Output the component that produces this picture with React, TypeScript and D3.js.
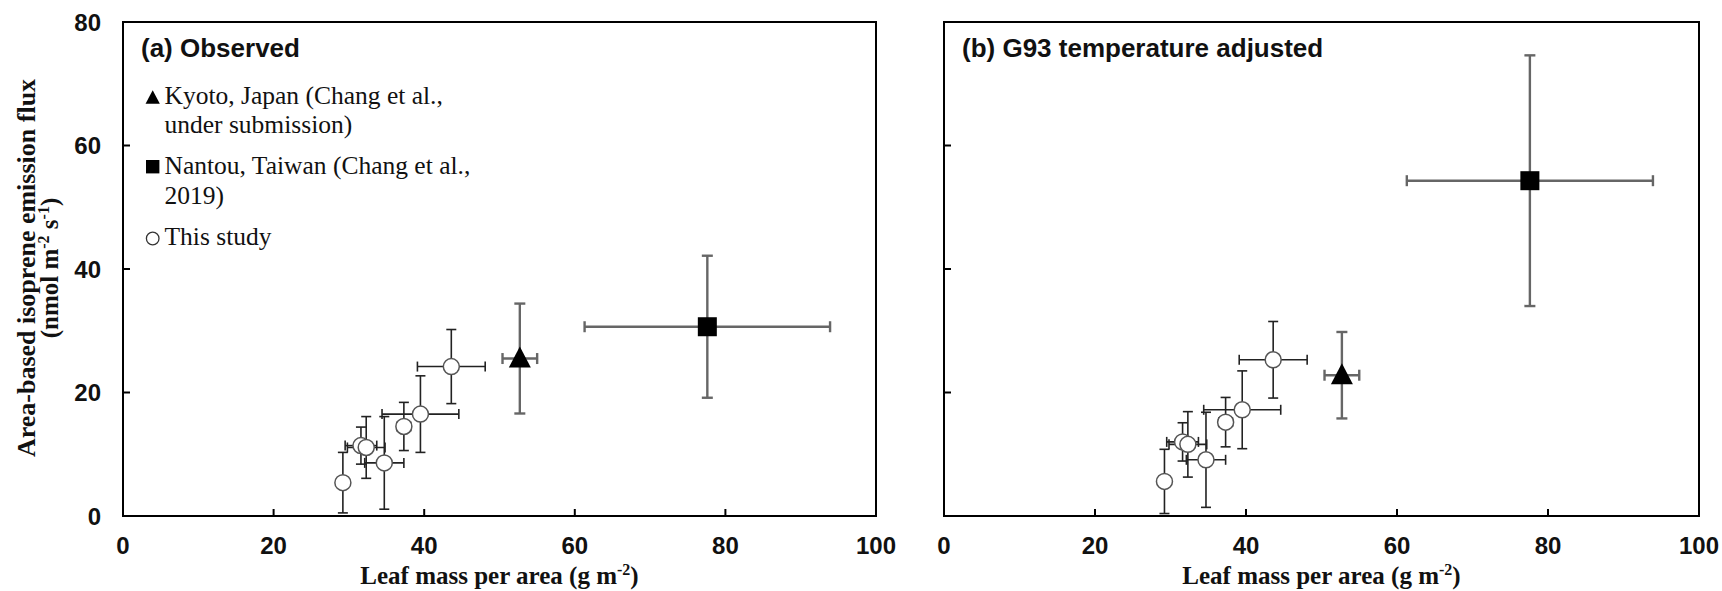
import React from "react";
import { scaleLinear } from "d3";

// leaf mass per area (g m-2) and isoprene flux (nmol m-2 s-1)
const studyLma = [29.2, 31.6, 32.3, 34.7, 37.3, 39.5, 43.6];
const studyLmaErr = [0.6, 2.1, 2.5, 2.6, 0.9, 5.1, 4.5];
const studyObs = [5.4, 11.4, 11.1, 8.6, 14.5, 16.5, 24.2];
const studyObsErr = [4.9, 3.0, 5.0, 7.5, 3.9, 6.2, 6.0];
const studyAdj = [5.6, 12.0, 11.6, 9.1, 15.2, 17.2, 25.3];
const studyAdjErr = [5.2, 3.1, 5.3, 7.7, 4.0, 6.3, 6.2];

const kyotoLma = [52.7, 2.3];
const kyotoObs = [25.5, 8.9];
const kyotoAdj = [22.8, 7.0];
const nantouLma = [77.6, 16.3];
const nantouObs = [30.65, 11.5];
const nantouAdj = [54.3, 20.3];

const xTicks = [0, 20, 40, 60, 80, 100];
const yTicks = [0, 20, 40, 60, 80];

const W = 1722;
const H = 591;
const top = 22;
const bottom = 516;
const sans = "'Liberation Sans', Arial, sans-serif";
const serif = "'Liberation Serif', 'Times New Roman', serif";

function ErrBars({ x, y, xe, ye, cx, cy, color, width, cap }) {
  const px = cx(x), py = cy(y);
  const x1 = cx(x - xe), x2 = cx(x + xe);
  const y1 = cy(y + ye), y2 = cy(y - ye);
  return (
    <g stroke={color} strokeWidth={width} fill="none">
      <line x1={x1} x2={x2} y1={py} y2={py} />
      <line x1={x1} x2={x1} y1={py - cap} y2={py + cap} />
      <line x1={x2} x2={x2} y1={py - cap} y2={py + cap} />
      <line x1={px} x2={px} y1={y1} y2={y2} />
      <line x1={px - cap} x2={px + cap} y1={y1} y2={y1} />
      <line x1={px - cap} x2={px + cap} y1={y2} y2={y2} />
    </g>
  );
}

function Panel({ left, right, title, ys, yErrs, kyoto, nantou, yLabels, legend }) {
  const x = scaleLinear().domain([0, 100]).range([left, right]);
  const y = scaleLinear().domain([0, 80]).range([bottom, top]);
  const tri = (cx, cy, s) =>
    `M${cx},${cy - s * 0.6}L${cx + s * 0.55},${cy + s * 0.45}L${cx - s * 0.55},${cy + s * 0.45}Z`;
  return (
    <g>
      {/* ticks inside */}
      {xTicks.slice(1, -1).map((t) => (
        <line key={"xt" + t} x1={x(t)} x2={x(t)} y1={bottom} y2={bottom - 7} stroke="#000" strokeWidth={2} />
      ))}
      {yTicks.slice(1, -1).map((t) => (
        <line key={"yt" + t} x1={left} x2={left + 7} y1={y(t)} y2={y(t)} stroke="#000" strokeWidth={2} />
      ))}
      <rect x={left} y={top} width={right - left} height={bottom - top} fill="none" stroke="#000" strokeWidth={2} />

      {xTicks.map((t) => (
        <text key={"xl" + t} x={x(t)} y={554} textAnchor="middle" fontFamily={sans} fontWeight="bold" fontSize={24} fill="#111">
          {t}
        </text>
      ))}
      {yLabels &&
        yTicks.map((t) => (
          <text key={"yl" + t} x={left - 22} y={y(t)} dy="0.36em" textAnchor="end" fontFamily={sans} fontWeight="bold" fontSize={24} fill="#111">
            {t}
          </text>
        ))}

      <text x={(left + right) / 2} y={584} textAnchor="middle" fontFamily={serif} fontWeight="bold" fontSize={25} fill="#111">
        Leaf mass per area (g m<tspan dy={-9} fontSize={16}>-2</tspan>
        <tspan dy={9}>)</tspan>
      </text>

      <text x={left + 18} y={57} fontFamily={sans} fontWeight="bold" fontSize={26} fill="#111">
        {title}
      </text>

      {/* error bars */}
      <ErrBars x={kyotoLma[0]} xe={kyotoLma[1]} y={kyoto[0]} ye={kyoto[1]} cx={x} cy={y} color="#666" width={2.4} cap={5.5} />
      <ErrBars x={nantouLma[0]} xe={nantouLma[1]} y={nantou[0]} ye={nantou[1]} cx={x} cy={y} color="#666" width={2.4} cap={5.5} />
      {studyLma.map((v, i) => (
        <ErrBars key={"eb" + i} x={v} xe={studyLmaErr[i]} y={ys[i]} ye={yErrs[i]} cx={x} cy={y} color="#222" width={1.6} cap={5} />
      ))}

      {/* markers */}
      {studyLma.map((v, i) => (
        <circle key={"c" + i} cx={x(v)} cy={y(ys[i])} r={8} fill="#fff" stroke="#555" strokeWidth={1.5} />
      ))}
      <path d={tri(x(kyotoLma[0]), y(kyoto[0]), 20)} fill="#000" />
      <rect x={x(nantouLma[0]) - 9.5} y={y(nantou[0]) - 9.5} width={19} height={19} fill="#000" />

      {legend && (
        <g fontFamily={serif} fontSize={25.5} fill="#111">
          <path d={tri(152.7, 98, 13)} fill="#000" />
          <text x={164.5} y={104}>Kyoto, Japan (Chang et al.,</text>
          <text x={164.5} y={133}>under submission)</text>
          <rect x={146} y={160} width={13.4} height={13.4} fill="#000" />
          <text x={164.5} y={174}>Nantou, Taiwan (Chang et al.,</text>
          <text x={164.5} y={204}>2019)</text>
          <circle cx={152.7} cy={238.5} r={6.3} fill="#fff" stroke="#333" strokeWidth={1.3} />
          <text x={164.5} y={245}>This study</text>
        </g>
      )}
    </g>
  );
}

export default function App() {
  const titleY = 268;
  return (
    <svg width={W} height={H} style={{ position: "absolute", left: 0, top: 0, background: "#fff" }}>
      <rect width={W} height={H} fill="#fff" />
      <g transform={`translate(0,${titleY}) rotate(-90)`} fontFamily={serif} fontWeight="bold" fill="#111" textAnchor="middle">
        <text x={0} y={35} fontSize={26}>Area-based isoprene emission flux</text>
        <text x={0} y={58} fontSize={25}>
          (nmol m<tspan dy={-9} fontSize={16}>-2</tspan>
          <tspan dy={9}> s</tspan>
          <tspan dy={-9} fontSize={16}>-1</tspan>
          <tspan dy={9}>)</tspan>
        </text>
      </g>
      <Panel left={123} right={876} title="(a) Observed" ys={studyObs} yErrs={studyObsErr} kyoto={kyotoObs} nantou={nantouObs} yLabels legend />
      <Panel left={944} right={1699} title="(b) G93 temperature adjusted" ys={studyAdj} yErrs={studyAdjErr} kyoto={kyotoAdj} nantou={nantouAdj} yLabels={false} legend={false} />
    </svg>
  );
}
